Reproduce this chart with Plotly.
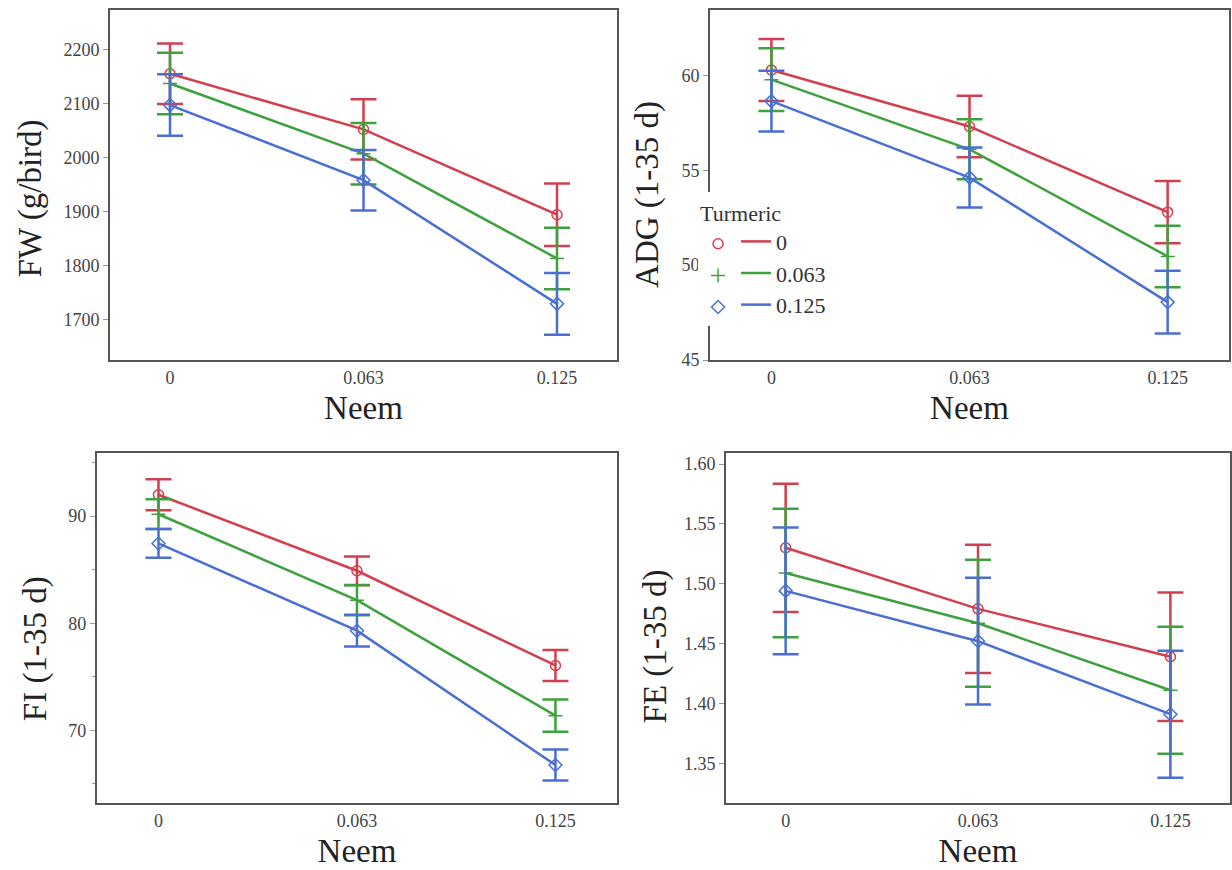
import plotly.graph_objects as go

# ---------------- data ----------------
neem_levels = ["0", "0.063", "0.125"]
turmeric_levels = ["0", "0.063", "0.125"]

# FW (g/bird): rows = turmeric 0, 0.063, 0.125 ; columns = neem levels
fw_mean = [[2155, 2052, 1894], [2137, 2007, 1813], [2097, 1958, 1729]]
fw_se = [[56, 56, 58], [57, 57, 57], [57, 56, 57]]

# ADG (1-35 d)
adg_mean = [[60.28, 57.30, 52.79], [59.77, 56.10, 50.46], [58.64, 54.61, 48.05]]
adg_se = [[1.63, 1.62, 1.64], [1.65, 1.58, 1.62], [1.60, 1.58, 1.65]]

# FI (1-35 d)
fi_mean = [[92.0, 84.9, 76.05], [90.18, 82.15, 71.36], [87.45, 79.3, 66.75]]
fi_se = [[1.45, 1.33, 1.45], [1.39, 1.40, 1.50], [1.34, 1.48, 1.45]]

# FE (1-35 d)
fe_mean = [[1.530, 1.479, 1.439], [1.509, 1.467, 1.411], [1.494, 1.452, 1.391]]
fe_se = [[0.0536, 0.0536, 0.0536], [0.0537, 0.0530, 0.0530], [0.0530, 0.0530, 0.0530]]

y_titles = ["FW (g/bird)", "ADG (1-35 d)", "FI (1-35 d)", "FE (1-35 d)"]

colors = ["#D2404F", "#3DA23D", "#4A6FD4"]
symbols = ["circle-open", "cross-thin-open", "diamond-open"]

FONT = "Liberation Serif"
AXIS_COLOR = "#555555"
TICK_FONT = dict(family=FONT, size=18, color="#444444")
TITLE_FONT = dict(family=FONT, size=33, color="#222222")

panels = [
    dict(mean=fw_mean, se=fw_se, yrange=[1625, 2273],
         ytick=dict(tickvals=[1700, 1800, 1900, 2000, 2100, 2200]),
         xdom=[0.0893, 0.5008], ydom=[0.5862, 0.9885], tpos=(0.0244, 0.772)),
    dict(mean=adg_mean, se=adg_se, yrange=[45, 63.44],
         ytick=dict(tickvals=[45, 50, 55, 60]),
         xdom=[0.5763, 0.9976], ydom=[0.5862, 0.9885], tpos=(0.526, 0.776)),
    dict(mean=fi_mean, se=fi_se, yrange=[63.2, 95.9],
         ytick=dict(tickvals=[70, 80, 90]),
         xdom=[0.0787, 0.5008], ydom=[0.0770, 0.4793], tpos=(0.0284, 0.255)),
    dict(mean=fe_mean, se=fe_se, yrange=[1.3168, 1.6092],
         ytick=dict(tickvals=[1.35, 1.40, 1.45, 1.50, 1.55, 1.60], tickformat=".2f"),
         xdom=[0.5893, 0.9984], ydom=[0.0770, 0.4793], tpos=(0.5317, 0.257)),
]

fig = go.Figure()
xpos = list(range(len(neem_levels)))

for p_i, p in enumerate(panels):
    ax = "" if p_i == 0 else str(p_i + 1)
    for t_i in range(len(turmeric_levels)):
        fig.add_trace(go.Scatter(
            x=xpos, y=p["mean"][t_i],
            xaxis="x" + ax, yaxis="y" + ax,
            mode="lines+markers",
            line=dict(color=colors[t_i], width=2.5),
            marker=dict(symbol=symbols[t_i], size=10, color=colors[t_i],
                        line=dict(width=1.5, color=colors[t_i])),
            error_y=dict(type="data", array=p["se"][t_i], visible=True,
                         color=colors[t_i], thickness=2.5, width=13),
            showlegend=False,
            hoverinfo="skip",
        ))
    xa = dict(domain=p["xdom"], range=[-0.31, 2.31], tickvals=xpos, ticktext=neem_levels,
              showgrid=False, zeroline=False, showline=True, mirror=True,
              linecolor=AXIS_COLOR, linewidth=2, ticks="",
              tickfont=TICK_FONT,
              title=dict(text="Neem", font=TITLE_FONT, standoff=9),
              anchor="y" + ax, automargin=False)
    ya = dict(domain=p["ydom"], range=p["yrange"], showgrid=False, zeroline=False,
              showline=True, mirror=True, linecolor=AXIS_COLOR, linewidth=2,
              ticks="outside", ticklen=5, tickcolor="#999999", tickwidth=1,
              tickfont=TICK_FONT,
              anchor="x" + ax, automargin=False, **p["ytick"])
    if p_i == 2:
        ya["minor"] = dict(tickvals=[65, 75, 85, 95], ticks="outside", ticklen=3, tickcolor="#999999")
    fig.layout["xaxis" + ax] = xa
    fig.layout["yaxis" + ax] = ya
    fig.add_annotation(text=y_titles[p_i], textangle=-90, xref="paper", yref="paper",
                       x=p["tpos"][0], y=p["tpos"][1], xanchor="center", yanchor="middle",
                       showarrow=False, font=TITLE_FONT)

# legend: lines (legend) and marker glyphs (legend2)
for t_i, lev in enumerate(turmeric_levels):
    fig.add_trace(go.Scatter(x=[None], y=[None], xaxis="x2", yaxis="y2", mode="lines",
                             line=dict(color=colors[t_i], width=2.5), name=lev,
                             legend="legend", showlegend=True))
for t_i, lev in enumerate(turmeric_levels):
    fig.add_trace(go.Scatter(x=[None], y=[None], xaxis="x2", yaxis="y2", mode="markers",
                             marker=dict(symbol=symbols[t_i], size=10, color=colors[t_i],
                                         line=dict(width=1.5, color=colors[t_i])),
                             name=" ", legend="legend2", showlegend=True))

fig.update_layout(
    width=1232, height=870,
    margin=dict(l=0, r=0, t=0, b=0),
    paper_bgcolor="white", plot_bgcolor="white",
    font=dict(family=FONT, color="#333333"),
    legend=dict(x=0.5666, y=0.7793, xanchor="left", yanchor="top",
                bgcolor="white", borderwidth=0, indentation=38,
                title=dict(text="Turmeric", font=dict(family=FONT, size=22, color="#333333")),
                font=dict(family=FONT, size=22, color="#333333"),
                itemwidth=30, tracegroupgap=0),
    legend2=dict(x=0.5666, y=0.7437, xanchor="left", yanchor="top",
                 bgcolor="rgba(0,0,0,0)", borderwidth=0,
                 font=dict(family=FONT, size=22, color="#333333"),
                 itemwidth=30, tracegroupgap=0),
)

fig.write_html("out.html")
